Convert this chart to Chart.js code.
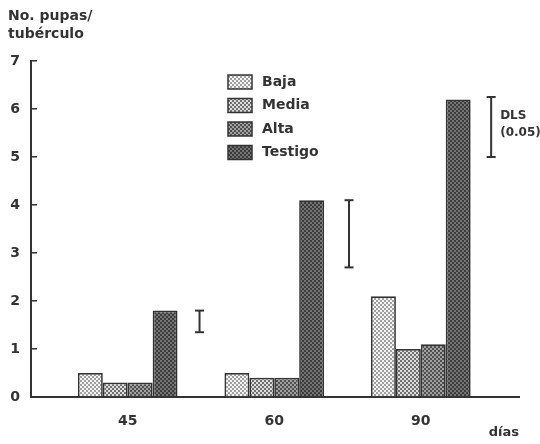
<!DOCTYPE html>
<html>
<head>
<meta charset="utf-8">
<script src="https://cdn.jsdelivr.net/npm/chart.js@4/dist/chart.umd.min.js"></script>
<style>
    html, body { margin: 0; padding: 0; background: #fff; }
    #wrap { width: 540px; height: 444px; }
</style>
</head>
<body>
<div id="wrap"><canvas id="chart"></canvas></div>
<script>
const dias = ['45', '60', '90'];
const series = ['Baja', 'Media', 'Alta', 'Testigo'];
const baja = [0.5, 0.5, 2.1];
const media = [0.3, 0.4, 1.0];
const alta = [0.3, 0.4, 1.1];
const testigo = [1.8, 4.1, 6.2];
const yTicks = [0, 1, 2, 3, 4, 5, 6, 7];

// DLS (0.05) ranges, drawn just right of each group
const dlsOffset = [0.49, 0.51, 0.48];
const dlsLow = [1.35, 2.7, 5.0];
const dlsHigh = [1.8, 4.1, 6.25];

const ink = '#333';
Chart.defaults.font.family = '"DejaVu Sans", sans-serif';
Chart.defaults.font.weight = 'bold';
Chart.defaults.color = ink;

function dotPattern(bg, dot) {
    const c = document.createElement('canvas');
    c.width = 4;
    c.height = 4;
    const g = c.getContext('2d');
    g.fillStyle = bg;
    g.fillRect(0, 0, 4, 4);
    g.fillStyle = dot;
    g.fillRect(0, 0, 2, 2);
    g.fillRect(2, 2, 2, 2);
    return g.createPattern(c, 'repeat');
}

const fills = [
    dotPattern('#f4f4f4', '#a0a0a0'),
    dotPattern('#dcdcdc', '#707070'),
    dotPattern('#a0a0a0', '#505050'),
    dotPattern('#3c3c3c', '#747474')
];

const values = [baja, media, alta, testigo];
const barSets = series.map((name, s) => ({
    label: name,
    data: values[s].map((v, i) => ({ x: i, y: v })),
    backgroundColor: fills[s],
    borderColor: ink,
    borderWidth: 1.7,
    categoryPercentage: 0.68,
    barPercentage: 1.0
}));

const dlsSets = dlsOffset.map((dx, i) => ({
    type: 'line',
    label: 'DLS',
    data: [{ x: i + dx, y: dlsLow[i] }, { x: i + dx, y: dlsHigh[i] }],
    borderColor: ink,
    borderWidth: 2,
    pointStyle: 'line',
    pointRadius: 4.5,
    pointBorderWidth: 2,
    pointBorderColor: ink,
    fill: false
}));

// legend box inside the plot + DLS label
const insideLegend = {
    id: 'insideLegend',
    afterDraw(chart) {
        const { ctx, chartArea, scales } = chart;
        const x = chartArea.left + 197;
        const y0 = chartArea.top + 21;
        ctx.save();
        ctx.font = 'bold 14px "DejaVu Sans"';
        ctx.textBaseline = 'middle';
        series.forEach((name, i) => {
            const y = y0 + i * 23.5;
            ctx.fillStyle = fills[i];
            ctx.fillRect(x, y - 7, 24, 14);
            ctx.strokeStyle = ink;
            ctx.lineWidth = 1.5;
            ctx.strokeRect(x, y - 7, 24, 14);
            ctx.fillStyle = ink;
            ctx.fillText(name, x + 34, y);
        });

        const last = dlsOffset.length - 1;
        const lx = scales.x.getPixelForValue(last + dlsOffset[last]) + 9;
        const my = scales.y.getPixelForValue((dlsLow[last] + dlsHigh[last]) / 2);
        ctx.font = 'bold 12px "DejaVu Sans"';
        ctx.fillText('DLS', lx, my - 11);
        ctx.fillText('(0.05)', lx, my + 6);
        ctx.restore();
    }
};

new Chart(document.getElementById('chart'), {
    type: 'bar',
    data: { datasets: [...barSets, ...dlsSets] },
    options: {
        responsive: true,
        maintainAspectRatio: false,
        animation: false,
        layout: { padding: { left: 8, right: 21, top: 0, bottom: 0 } },
        plugins: {
            legend: { display: false },
            tooltip: { enabled: false },
            title: {
                display: true,
                text: ['No. pupas/', 'tubérculo'],
                align: 'start',
                color: ink,
                font: { size: 14, weight: 'bold', lineHeight: 1.3 },
                padding: { top: 7, bottom: 17.6 }
            }
        },
        scales: {
            x: {
                type: 'linear',
                offset: false,
                min: -0.66,
                max: 2.67,
                afterBuildTicks: s => { s.ticks = dias.map((_, i) => ({ value: i })); },
                afterFit: s => { s.height = 47; },
                ticks: {
                    callback: v => dias[v],
                    padding: 8,
                    color: ink,
                    font: { size: 14, weight: 'bold' }
                },
                grid: { display: false, offset: false },
                border: { color: ink, width: 2 },
                title: {
                    display: true,
                    text: 'días',
                    align: 'end',
                    color: ink,
                    font: { size: 13, weight: 'bold' },
                    padding: { top: 0, bottom: 4 }
                }
            },
            y: {
                min: 0,
                max: 7,
                afterBuildTicks: s => { s.ticks = yTicks.map(v => ({ value: v })); },
                afterFit: s => { s.width = 23; },
                ticks: {
                    padding: 17,
                    color: ink,
                    font: { size: 14, weight: 'bold' }
                },
                grid: { drawOnChartArea: false, tickLength: -6, color: ink, lineWidth: 1.5 },
                border: { color: ink, width: 2 }
            }
        }
    },
    plugins: [insideLegend]
});
</script>
</body>
</html>
